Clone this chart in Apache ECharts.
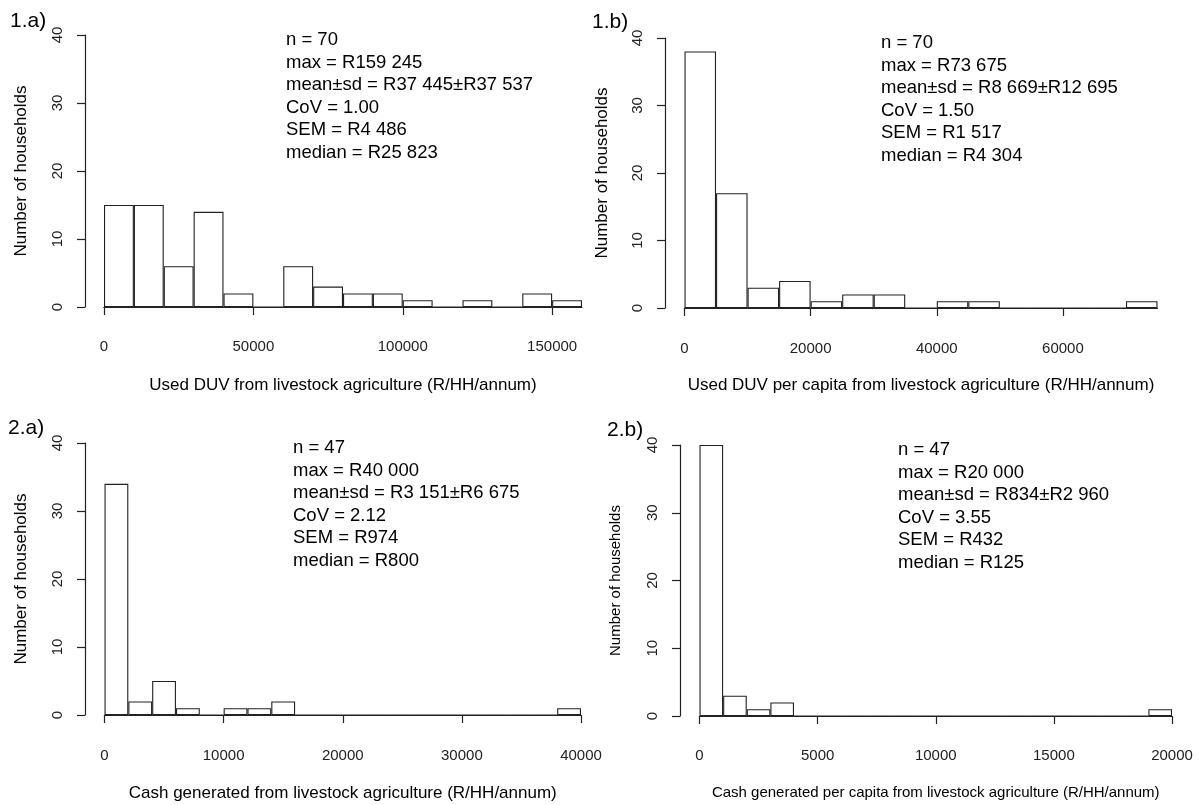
<!DOCTYPE html>
<html>
<head>
<meta charset="utf-8">
<script src="https://cdn.jsdelivr.net/npm/echarts@6/dist/echarts.min.js"></script>
<style>html,body{margin:0;padding:0;background:#fff}#c{width:1200px;height:805px}</style>
</head>
<body>
<div id="c"></div>
<script>
// ---- data ----
const counts1a = [15,15,6,14,2,0,6,3,2,2,1,0,1,0,2,1];          // bins of 10000
const counts1b = [38,17,3,4,1,2,2,0,1,1,0,0,0,0,1];              // bins of 5000
const counts2a = [34,2,5,1,0,1,1,2,0,0,0,0,0,0,0,0,0,0,0,1];      // bins of 2000
const counts2b = [40,3,1,2,0,0,0,0,0,0,0,0,0,0,0,0,0,0,0,1];      // bins of 1000
const binWidths = [10000, 5000, 2000, 1000];
const xTickMax = [150000, 60000, 40000, 20000];
const xTickStep = [50000, 20000, 10000, 5000];
const yTicks = [0, 10, 20, 30, 40];
const panelLabels = ['1.a)', '1.b)', '2.a)', '2.b)'];
const xTitles = [
  'Used DUV from livestock agriculture (R/HH/annum)',
  'Used DUV per capita from livestock agriculture (R/HH/annum)',
  'Cash generated from livestock agriculture (R/HH/annum)',
  'Cash generated per capita from livestock agriculture (R/HH/annum)'
];
const yTitle = 'Number of households';
const stats1a = ['n = 70','max = R159 245','mean\u00b1sd = R37 445\u00b1R37 537','CoV = 1.00','SEM = R4 486','median = R25 823'];
const stats1b = ['n = 70','max = R73 675','mean\u00b1sd = R8 669\u00b1R12 695','CoV = 1.50','SEM = R1 517','median = R4 304'];
const stats2a = ['n = 47','max = R40 000','mean\u00b1sd = R3 151\u00b1R6 675','CoV = 2.12','SEM = R974','median = R800'];
const stats2b = ['n = 47','max = R20 000','mean\u00b1sd = R834\u00b1R2 960','CoV = 3.55','SEM = R432','median = R125'];

// ---- layout ----
const allCounts = [counts1a, counts1b, counts2a, counts2b];
const allStats = [stats1a, stats1b, stats2a, stats2b];
const L = [
  {x0:104,   w:478,   top:35,  h:272, yAxisX:85,  xAxisY:319, statX:286, statY:40,  labX:10,  labY:21,  tf:17, nameGapX:69.5, nameGapY:55.5},
  {x0:684.5, w:473,   top:38,  h:270, yAxisX:665, xAxisY:321, statX:881, statY:43,  labX:592, labY:22,  tf:17, nameGapX:68.5, nameGapY:54.5},
  {x0:104.5, w:476.5, top:443, h:272, yAxisX:85,  xAxisY:728, statX:293, statY:448, labX:8,   labY:428, tf:17, nameGapX:69.5, nameGapY:55.5},
  {x0:699.5, w:472.5, top:445, h:271, yAxisX:680, xAxisY:728, statX:898, statY:450, labX:607, labY:430, tf:15, nameGapX:69.5, nameGapY:56.5}
];
const FONT = "'Liberation Sans', Arial, sans-serif";
const LINE = '#222';

const grid = [], xAxis = [], yAxis = [], series = [], title = [];
allCounts.forEach((counts, i) => {
  const g = L[i];
  const bw = binWidths[i];
  const cats = counts.map((_, k) => (k * bw) + '-' + ((k + 1) * bw));
  const binMax = counts.length * bw;
  const tickW = g.w * xTickMax[i] / binMax;
  grid.push({left: g.x0, top: g.top, width: g.w, height: g.h, outerBoundsMode: 'none', containLabel: false});
  grid.push({left: g.x0, top: g.top, width: tickW, height: g.h, outerBoundsMode: 'none', containLabel: false});
  const gb = 2 * i, ga = 2 * i + 1;
  xAxis.push({
    gridIndex: gb, type: 'category', data: cats, boundaryGap: true,
    axisLine: {show: true, lineStyle: {color: LINE, width: 1.2}},
    axisTick: {show: false}, axisLabel: {show: false}, splitLine: {show: false},
    name: xTitles[i], nameLocation: 'middle', nameGap: g.nameGapX,
    nameTextStyle: {fontFamily: FONT, fontSize: g.tf, color: '#000'}
  });
  xAxis.push({
    gridIndex: ga, type: 'value', min: 0, max: xTickMax[i], interval: xTickStep[i],
    position: 'bottom', offset: g.xAxisY - (g.top + g.h),
    axisLine: {show: true, lineStyle: {color: LINE, width: 1.2}},
    axisTick: {show: true, inside: false, length: 8, lineStyle: {color: LINE, width: 1.2}},
    axisLabel: {show: true, margin: 20, fontFamily: FONT, fontSize: 15, color: '#222',
      showMinLabel: true, showMaxLabel: true, formatter: v => String(v)},
    splitLine: {show: false}
  });
  yAxis.push({
    gridIndex: gb, type: 'value', min: 0, max: yTicks[yTicks.length - 1], interval: yTicks[1] - yTicks[0],
    position: 'left', offset: g.x0 - g.yAxisX,
    axisLine: {show: true, lineStyle: {color: LINE, width: 1.2}},
    axisTick: {show: true, inside: false, length: 8, lineStyle: {color: LINE, width: 1.2}},
    axisLabel: {show: true, rotate: 90, margin: 20, fontFamily: FONT, fontSize: 15, color: '#222', formatter: v => String(v)},
    splitLine: {show: false},
    name: yTitle, nameLocation: 'middle', nameGap: g.nameGapY,
    nameTextStyle: {fontFamily: FONT, fontSize: g.tf, color: '#000'}
  });
  yAxis.push({gridIndex: ga, type: 'value', min: 0, max: 40, show: false});
  series.push({
    type: 'bar', xAxisIndex: gb, yAxisIndex: gb, data: counts,
    barCategoryGap: '0%', barGap: '0%', silent: true,
    itemStyle: {color: '#fff', borderColor: LINE, borderWidth: 1.1}
  });
  title.push({
    text: allStats[i].join('\n'), left: g.statX, top: g.statY - 11.25,
    textStyle: {fontFamily: FONT, fontSize: 18.5, fontWeight: 'normal', color: '#000', lineHeight: 22.5}
  });
  title.push({
    text: panelLabels[i], left: g.labX, top: g.labY - 12,
    textStyle: {fontFamily: FONT, fontSize: 21, fontWeight: 'normal', color: '#000', lineHeight: 24}
  });
});

const chart = echarts.init(document.getElementById('c'), null, {renderer: 'canvas'});
chart.setOption({
  animation: false,
  backgroundColor: '#fff',
  title: title.map(t => Object.assign({padding: 0}, t)),
  grid: grid, xAxis: xAxis, yAxis: yAxis, series: series
});
</script>
</body>
</html>
